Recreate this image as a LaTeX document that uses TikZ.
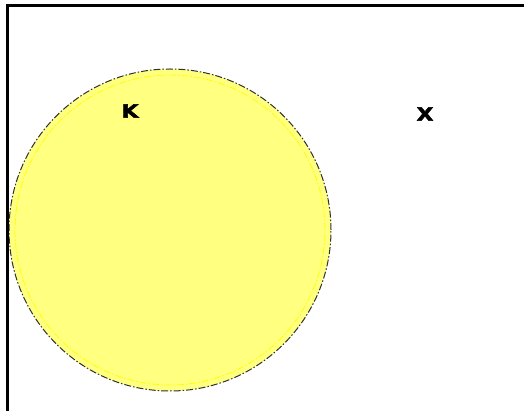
\documentclass[tikz,border=0pt]{standalone}
\usepackage{fontspec}
\setmainfont{DejaVu Sans}
\newfontfamily\heavyfont[FakeBold=2.5]{DejaVu Sans Bold}
\definecolor{setfill}{HTML}{FFFF80}
\definecolor{setrim}{HTML}{FFFF00}
\definecolor{edgegray}{HTML}{303030}
\begin{document}
\begin{tikzpicture}[x=1pt,y=-1pt,
 setcirc/.style={circle,minimum size=322pt,inner sep=0pt,fill=setfill,draw=edgegray,line width=1pt,dash pattern=on 7pt off 2pt on 1.5pt off 2pt},
 lbl/.style={font=\heavyfont\fontsize{18}{19}\selectfont,inner sep=0pt,xscale=1.2}]
\useasboundingbox (0,0) rectangle (524,411);
\clip (0,0) rectangle (524,411);
\node[setcirc] (K) at (170,230) {};
\draw[setrim,line width=0.8pt,dash pattern=on 7pt off 2pt on 1.5pt off 2pt] (K.center) circle (155pt);
\draw[line width=3pt] (7,430) -- (7,6) -- (540,6);
\node[lbl] (k) at (130,111) {K};
\node[lbl] (x) at (425,114) {X};
\end{tikzpicture}
\end{document}
